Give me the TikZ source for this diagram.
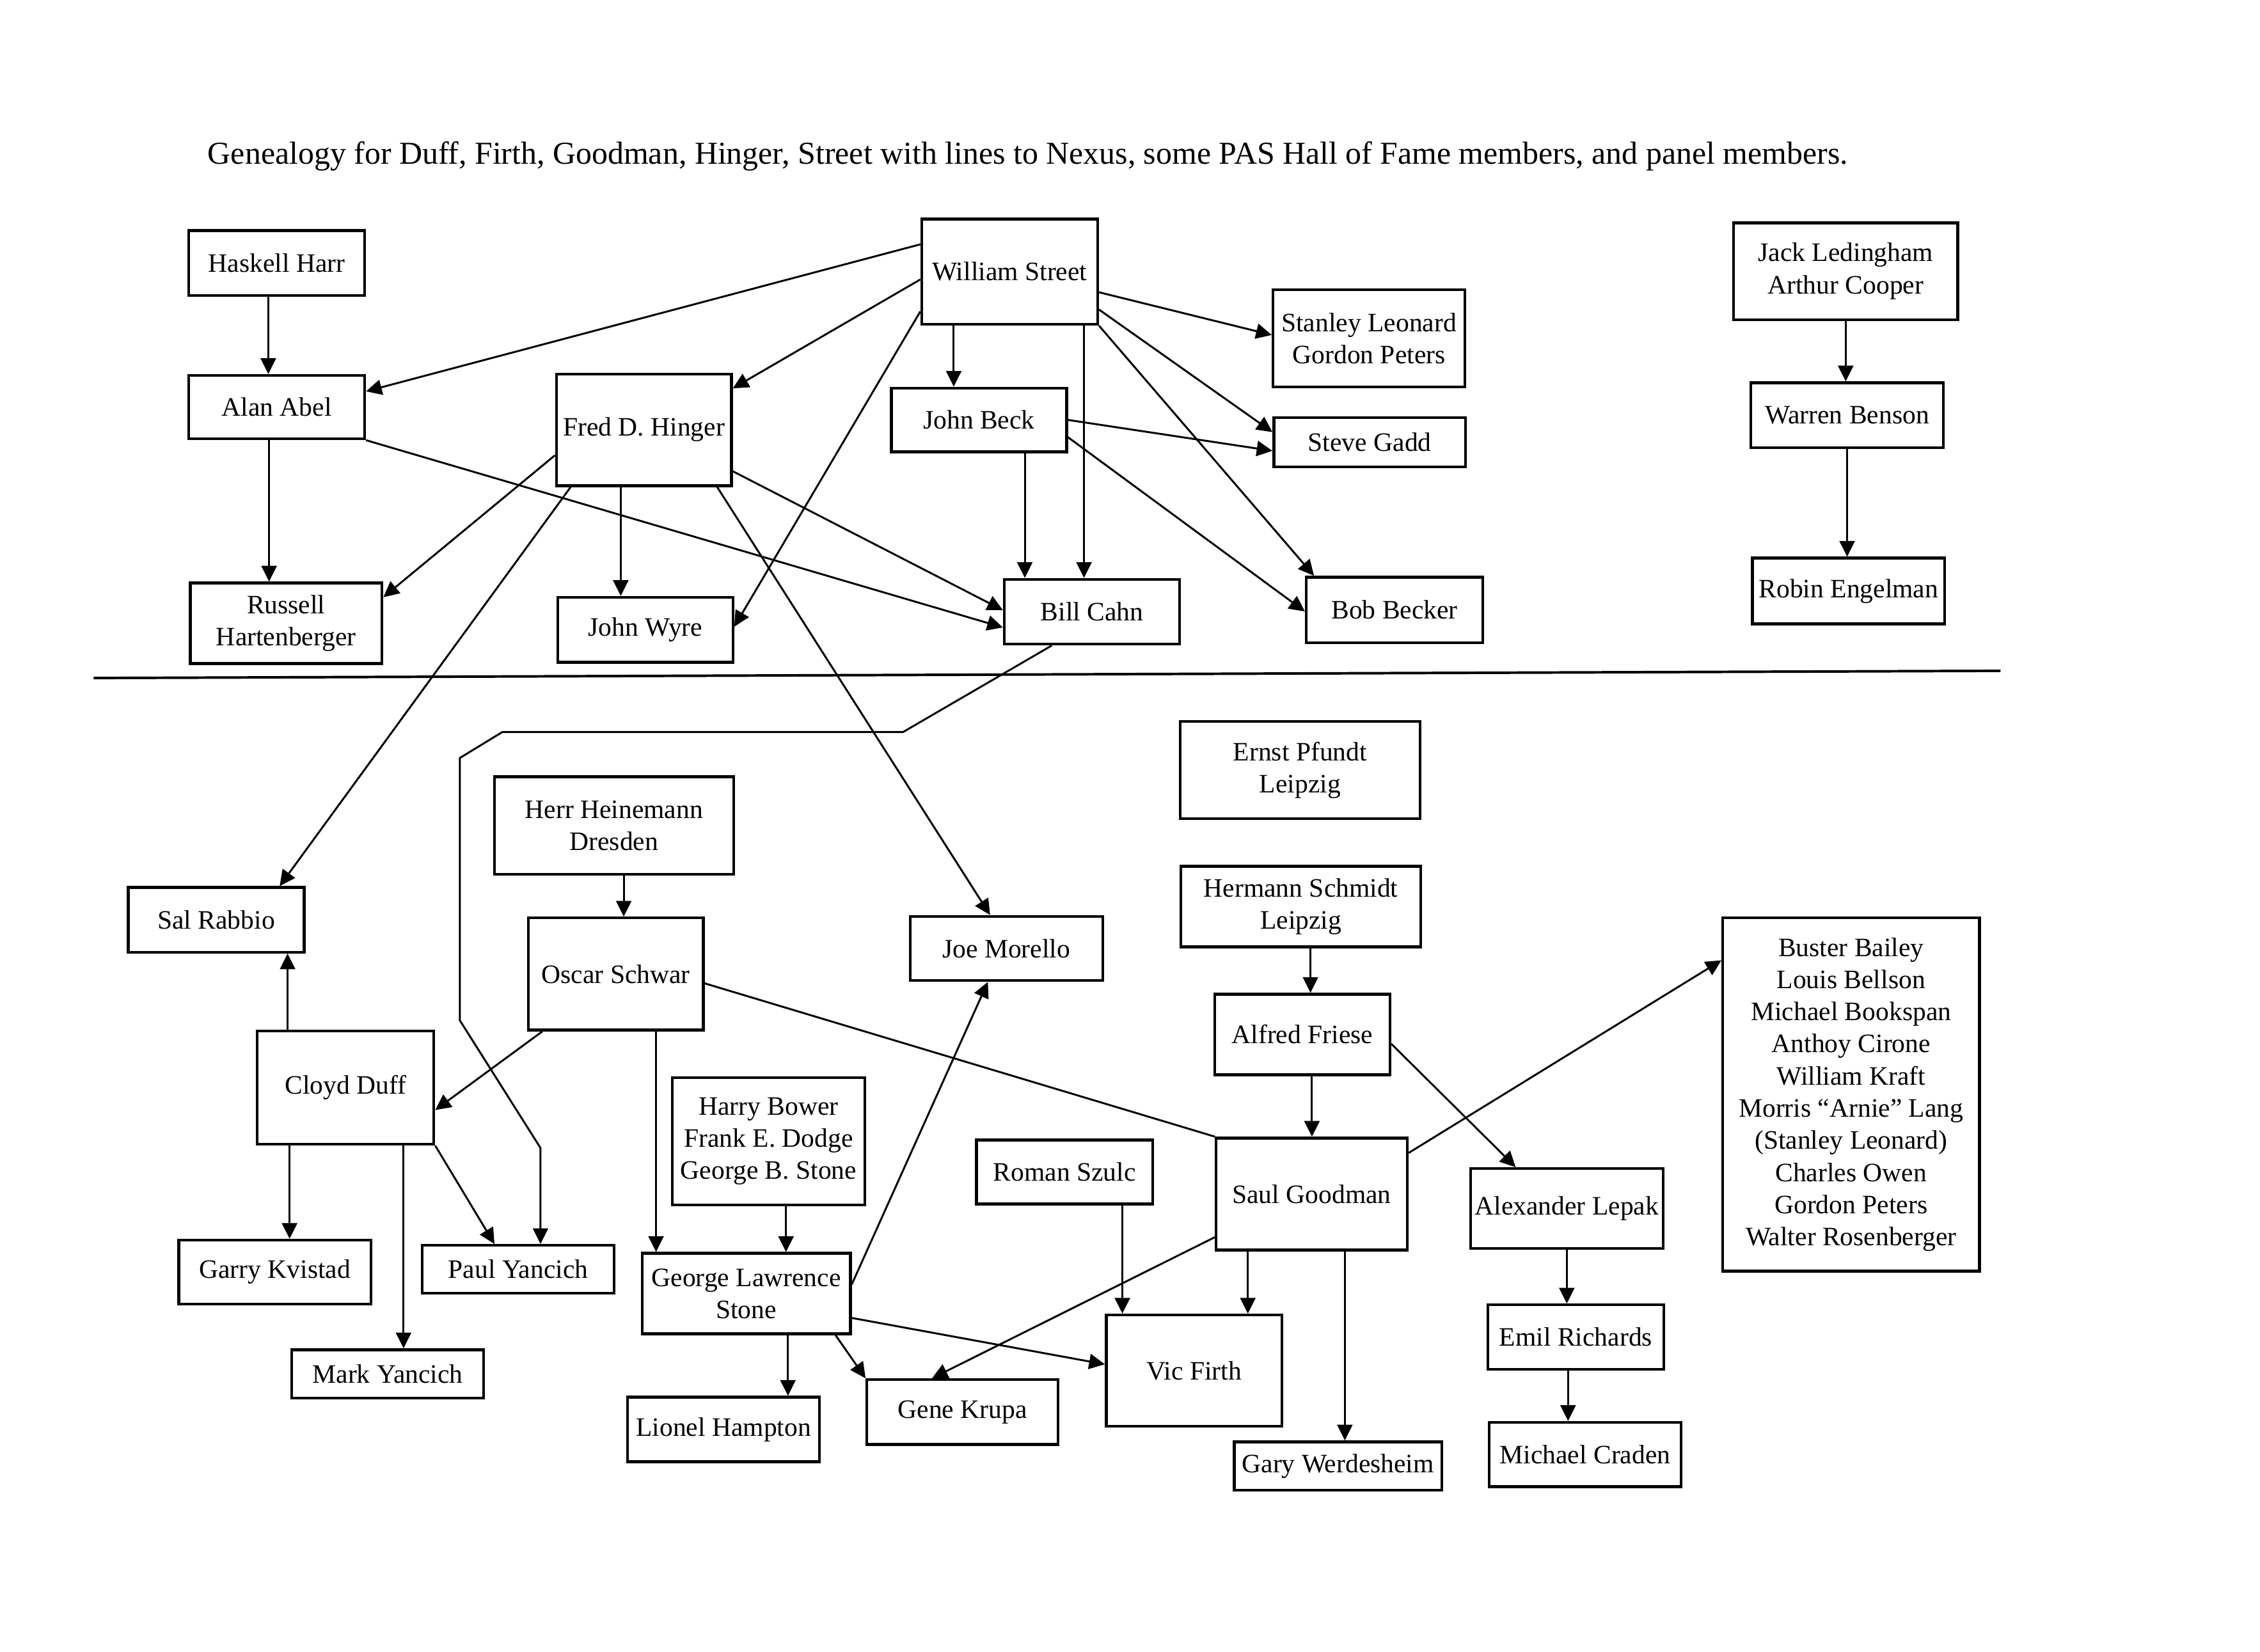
\documentclass[tikz,border=0pt]{standalone}
\usepackage{fontspec}
\setmainfont{Liberation Serif}
\usetikzlibrary{arrows.meta}

\begin{document}
\begin{tikzpicture}[x=0.2mm,y=-0.2mm,->,>={Triangle[length=6.2pt,width=6pt]},
                    line width=0.75pt,
                    wh/.style 2 args={minimum width=#1*0.2mm,minimum height=#2*0.2mm}]
  \tikzstyle{person}=[draw=black,text=black,shape=rectangle,align=center,
                      line width=1.1pt,inner sep=1pt,font=\fontsize{10.5}{12.7}\selectfont]

  \useasboundingbox (0,0) rectangle (1568,1146);

  \node[font=\fontsize{12.6}{15}\selectfont,anchor=base] (title) at (713.2,114)
    {Genealogy for Duff, Firth, Goodman, Hinger, Street with lines to Nexus, some PAS Hall of Fame members, and panel members.};

  % upper part
  \node[person,wh={122}{45}]     (harr)    at (192,182.5)     {Haskell Harr};
  \node[person,wh={122}{44}]     (abel)    at (192,282.5)     {Alan Abel};
  \node[person,wh={133}{56}]     (hart)    at (198.5,432.5)   {Russell\\Hartenberger};
  \node[person,wh={121.5}{77.5}] (hinger)  at (446.75,298.25) {Fred D. Hinger};
  \node[person,wh={121.5}{45}]   (wyre)    at (447.75,437)    {John Wyre};
  \node[person,wh={122}{73}]     (street)  at (700.5,188.5)   {William Street};
  \node[person,wh={121.5}{44.2}] (beck)    at (679.25,291.4)  {John Beck};
  \node[person,wh={121.7}{45}]   (cahn)    at (757.65,424.5)  {Bill Cahn};
  \node[person,wh={133}{67.6}]   (leonard) at (949.8,234.8)   {Stanley Leonard\\Gordon Peters};
  \node[person,wh={133}{34.3}]   (gadd)    at (950.3,306.95)  {Steve Gadd};
  \node[person,wh={122.5}{45.5}] (becker)  at (967.55,423.25) {Bob Becker};
  \node[person,wh={155.5}{67.2}] (leding)  at (1280.55,188.2) {Jack Ledingham\\Arthur Cooper};
  \node[person,wh={133.5}{45}]   (benson)  at (1281.55,288.1) {Warren Benson};
  \node[person,wh={133.5}{45.7}] (engel)   at (1282.55,410.15) {Robin Engelman};

  \draw[-,line width=1pt] (65,470.5) -- (1388,465.5);

  % lower part
  \node[person,wh={166.5}{67.6}] (pfundt)   at (902,534.4)     {Ernst Pfundt\\Leipzig};
  \node[person,wh={166}{67.6}]   (heine)    at (426,572.8)     {Herr Heinemann\\Dresden};
  \node[person,wh={122}{44.9}]   (rabbio)   at (150,638.25)    {Sal Rabbio};
  \node[person,wh={133.5}{44.5}] (morello)  at (698.25,658.15) {Joe Morello};
  \node[person,wh={166.5}{55.9}] (schmidt)  at (902.55,629.05) {Hermann Schmidt\\Leipzig};
  \node[person,wh={121.5}{77.8}] (schwar)   at (427.25,675.9)  {Oscar Schwar};
  \node[person,wh={178}{245.1}]  (panel)    at (1284.3,759.55)
    {Buster Bailey\\Louis Bellson\\Michael Bookspan\\Anthoy Cirone\\William Kraft\\
     Morris “Arnie” Lang\\(Stanley Leonard)\\Charles Owen\\Gordon Peters\\Walter Rosenberger};
  \node[person,wh={121.5}{55.9}] (friese)   at (903.55,717.85) {Alfred Friese};
  \node[person,wh={122.5}{78.5}] (duff)     at (239.75,754.75) {Cloyd Duff};
  \node[person,wh={133.5}{88.4}] (bower)    at (533.25,791.9)  {Harry Bower\\Frank E. Dodge\\George B. Stone};
  \node[person,wh={122.3}{44.3}] (szulc)    at (738.65,813.25) {Roman Szulc};
  \node[person,wh={132.5}{77.8}] (goodman)  at (910.05,828.6)  {Saul Goodman};
  \node[person,wh={133.5}{55.5}] (lepak)    at (1087.05,838.65) {Alexander Lepak};
  \node[person,wh={133.5}{44.2}] (kvistad)  at (190.75,882.7)  {Garry Kvistad};
  \node[person,wh={133}{33.3}]   (pyanc)    at (359.5,880.85)  {Paul Yancich};
  \node[person,wh={144.5}{55.9}] (stone)    at (517.75,897.65) {George Lawrence\\Stone};
  \node[person,wh={121.8}{77.1}] (firth)    at (828.4,951.05)  {Vic Firth};
  \node[person,wh={122}{44.6}]   (richards) at (1093.3,927.8)  {Emil Richards};
  \node[person,wh={133}{33.6}]   (myanc)    at (269,953.4)     {Mark Yancich};
  \node[person,wh={133}{44.9}]   (hampton)  at (502,991.95)    {Lionel Hampton};
  \node[person,wh={132.5}{45}]   (krupa)    at (667.75,979.9)  {Gene Krupa};
  \node[person,wh={144}{33.6}]   (werdes)   at (928.3,1017.3)  {Gary Werdesheim};
  \node[person,wh={133}{44.6}]   (craden)   at (1099.8,1009.3) {Michael Craden};

  \path (harr.256)   edge (harr.256 |- abel.north)
        (abel.257)   edge (abel.257 |- hart.north)
        (street.163) edge (abel.10)
        (street.185) edge (hinger.25)
        (street.204) edge (wyre.2)
        (street.224) edge (street.224 |- beck.north)
        (street.324) edge (street.324 |- cahn.north)
        (street.347) edge (leonard.178)
        (street.337) edge (gadd.174)
        (street.south east) edge (becker.157)
        (beck.0)     edge (gadd.185)
        (beck.349)   edge (becker.181)
        (beck.324)   edge (beck.324 |- cahn.north)
        (abel.south east) edge (cahn.190)
        (hinger.335) edge (cahn.179)
        (hinger.196) edge (hart.15)
        (hinger.248) edge (hinger.248 |- wyre.north)
        (hinger.218) edge (rabbio.28)
        (hinger.322) edge (morello.116)
        (leding.south) edge (leding.south |- benson.north)
        (benson.south) edge (benson.south |- engel.north);

  \coordinate (b1) at (626.5,508);
  \coordinate (b2) at (348.5,508);
  \coordinate (b3) at (319,526);
  \coordinate (b4) at (319,708);
  \coordinate (b5) at (375,796.6);
  \draw (cahn.220) -- (b1) -- (b2) -- (b3) -- (b4) -- (b5) -- (b5 |- pyanc.north);

  \path (heine.281)   edge (heine.281 |- schwar.north)
        (duff.135)    edge (duff.135 |- rabbio.south)
        (schwar.218)  edge (duff.346)
        (schwar.305)  edge (schwar.305 |- stone.north)
        (schwar.354)  edge[-] (goodman.north west)
        (duff.226)    edge (duff.226 |- kvistad.north)
        (duff.315)    edge (duff.315 |- myanc.north)
        (duff.south east) edge (pyanc.133)
        (bower.285)   edge (bower.285 |- stone.north)
        (stone.5)     edge (morello.241)
        (stone.347)   edge (firth.176)
        (stone.315)   edge (stone.315 |- hampton.north)
        (stone.335)   edge (krupa.north west)
        (goodman.204) edge (krupa.132)
        (szulc.330)   edge (szulc.330 |- firth.north)
        (schmidt.283) edge (schmidt.283 |- friese.north)
        (friese.283)  edge (friese.283 |- goodman.north)
        (friese.354)  edge (lepak.141)
        (goodman.23)  edge (panel.134)
        (goodman.222) edge (goodman.222 |- firth.north)
        (goodman.300) edge (goodman.300 |- werdes.north)
        (lepak.south) edge (lepak.south |- richards.north)
        (richards.257) edge (richards.257 |- craden.north);
\end{tikzpicture}
\end{document}
